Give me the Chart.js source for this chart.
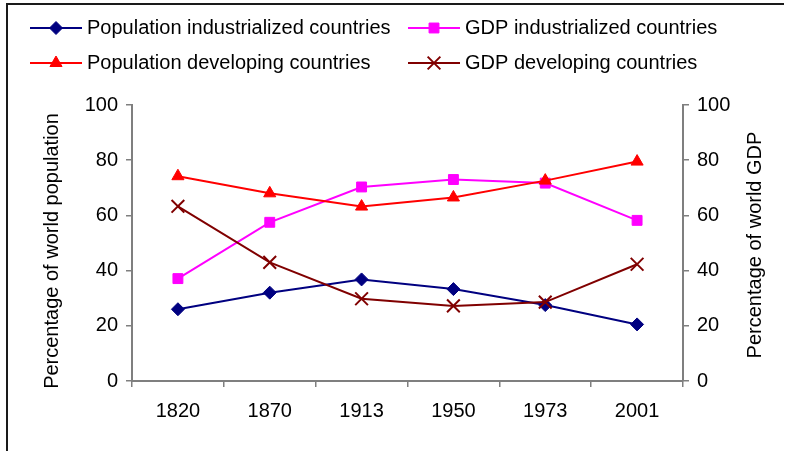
<!DOCTYPE html>
<html>
<head>
<meta charset="utf-8">
<script src="https://cdn.jsdelivr.net/npm/chart.js"></script>
<style>
  html, body { margin: 0; padding: 0; background: #fff; }
  #wrap { position: relative; width: 787px; height: 451px; overflow: hidden; }
  #frame { position: absolute; left: 6px; top: 3px; width: 776px; height: 460px;
           border-top: 2px solid #1a1a1a; border-left: 2px solid #1a1a1a; }
  canvas { position: absolute; left: 0; top: 0; }
</style>
</head>
<body>
<div id="wrap">
  <div id="frame"></div>
  <canvas id="grafico" width="787" height="451"></canvas>
</div>
<script>
// data
const years = ['1820', '1870', '1913', '1950', '1973', '2001'];
const popIndustrialized = [26, 32, 36.8, 33.3, 27.5, 20.5];
const gdpIndustrialized = [37.1, 57.5, 70.3, 73, 71.7, 58.2];
const popDeveloping = [74.2, 68, 63.2, 66.5, 72.6, 79.5];
const gdpDeveloping = [63.3, 43, 29.8, 27.2, 28.6, 42.3];
const axisMin = 0, axisMax = 100, axisStep = 20;
const leftTitle = 'Percentage of world population';
const rightTitle = 'Percentage of world GDP';

const fuente = '"Liberation Sans", Arial, sans-serif';
const gris = '#7f7f7f';

// legend drawn as a 2x2 table like the original, plus both axis titles read bottom-to-top
const leyendaTabla = {
  id: 'leyendaTabla',
  afterDraw(chart) {
    const ctx = chart.ctx;
    ctx.save();
    ctx.font = '20px ' + fuente;
    ctx.textBaseline = 'middle';
    chart.data.datasets.forEach((ds, i) => {
      const x = i % 2 ? 408 : 30;
      const y = i < 2 ? 28 : 63;
      ctx.strokeStyle = ds.borderColor;
      ctx.lineWidth = 2;
      ctx.beginPath();
      ctx.moveTo(x, y);
      ctx.lineTo(x + 52, y);
      ctx.stroke();
      ctx.fillStyle = ds.pointBackgroundColor;
      ctx.strokeStyle = ds.pointBorderColor;
      ctx.lineWidth = ds.pointBorderWidth;
      Chart.helpers.drawPoint(ctx, {
        pointStyle: ds.pointStyle, radius: ds.pointRadius,
        rotation: 0, borderWidth: ds.pointBorderWidth
      }, x + 26, y);
      ctx.fillStyle = '#000';
      ctx.fillText(ds.label, x + 57, y);
    });

    const area = chart.chartArea;
    ctx.textAlign = 'center';
    ctx.fillStyle = '#000';
    [[chart.scales.y.left + 22, leftTitle, 8], [chart.scales.y1.right - 22, rightTitle, 2]].forEach(([tx, txt, dy]) => {
      ctx.save();
      ctx.translate(tx, (area.top + area.bottom) / 2 + dy);
      ctx.rotate(-Math.PI / 2);
      ctx.fillText(txt, 0, 0);
      ctx.restore();
    });
    ctx.restore();
  }
};

function ejeY(position, ancho) {
  return {
    type: 'linear',
    position: position,
    min: axisMin,
    max: axisMax,
    afterFit: s => { s.width = ancho; },
    ticks: { stepSize: axisStep, color: '#000', padding: 8, font: { size: 20, family: fuente } },
    grid: { drawOnChartArea: false, drawTicks: true, tickLength: 6, color: gris, lineWidth: 1.5 },
    border: { color: gris, width: 2 },
    title: { display: false }
  };
}

const ctx = document.getElementById('grafico').getContext('2d');
new Chart(ctx, {
  type: 'line',
  data: {
    labels: years,
    datasets: [{
      label: 'Population industrialized countries',
      data: popIndustrialized,
      yAxisID: 'y',
      borderColor: '#000080',
      pointBackgroundColor: '#000080',
      pointBorderColor: '#000080',
      pointStyle: 'rectRot',
      pointRadius: 6.5,
      pointBorderWidth: 1,
      borderWidth: 2,
      order: 4
    }, {
      label: 'GDP industrialized countries',
      data: gdpIndustrialized,
      yAxisID: 'y1',
      borderColor: '#ff00ff',
      pointBackgroundColor: '#ff00ff',
      pointBorderColor: '#ff00ff',
      pointStyle: 'rect',
      pointRadius: 7,
      pointBorderWidth: 1,
      borderWidth: 2,
      order: 3
    }, {
      label: 'Population developing countries',
      data: popDeveloping,
      yAxisID: 'y',
      borderColor: '#ff0000',
      pointBackgroundColor: '#ff0000',
      pointBorderColor: '#ff0000',
      pointStyle: 'triangle',
      pointRadius: 7,
      pointBorderWidth: 1,
      borderWidth: 2,
      order: 1
    }, {
      label: 'GDP developing countries',
      data: gdpDeveloping,
      yAxisID: 'y1',
      borderColor: '#800000',
      pointBackgroundColor: '#800000',
      pointBorderColor: '#800000',
      pointStyle: 'crossRot',
      pointRadius: 9,
      pointBorderWidth: 2,
      borderWidth: 2,
      order: 2
    }]
  },
  options: {
    responsive: false,
    animation: false,
    layout: { padding: { top: 105, left: 30, right: 10, bottom: 0 } },
    scales: {
      x: {
        type: 'category',
        offset: true,
        afterFit: s => { s.height = 70; },
        ticks: { color: '#000', padding: 12, font: { size: 20, family: fuente } },
        grid: { offset: true, drawOnChartArea: false, drawTicks: true, tickLength: 6, color: gris, lineWidth: 1.5 },
        border: { color: gris, width: 2 }
      },
      y: ejeY('left', 102),
      y1: ejeY('right', 94)
    },
    plugins: {
      legend: { display: false },
      tooltip: { enabled: false }
    }
  },
  plugins: [leyendaTabla]
});
</script>
</body>
</html>
